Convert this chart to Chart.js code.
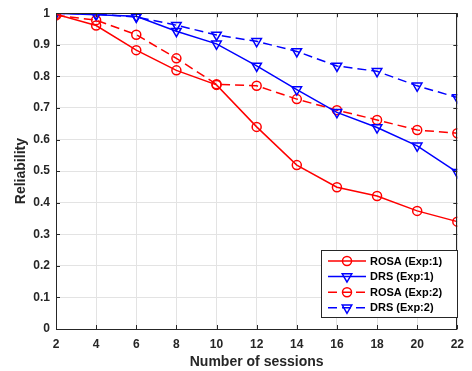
<!DOCTYPE html>
<html>
<head>
<meta charset="utf-8">
<script src="https://cdn.jsdelivr.net/npm/chart.js@4/dist/chart.umd.min.js"></script>
<style>
  html, body { margin: 0; padding: 0; background: #fff; }
  #wrap { width: 472px; height: 371px; }
</style>
</head>
<body>
<div id="wrap"><canvas id="myChart" width="472" height="371"></canvas></div>
<script>
// data
const sessions = [2, 4, 6, 8, 10, 12, 14, 16, 18, 20, 22];
const rosaExp1 = [0.997, 0.961, 0.883, 0.819, 0.773, 0.640, 0.519, 0.449, 0.421, 0.374, 0.340];
const drsExp1  = [1.0, 0.995, 0.99, 0.943, 0.903, 0.833, 0.758, 0.686, 0.638, 0.580, 0.496];
const rosaExp2 = [0.993, 0.978, 0.932, 0.857, 0.775, 0.770, 0.728, 0.693, 0.662, 0.630, 0.620];
const drsExp2  = [1.0, 0.997, 0.988, 0.962, 0.931, 0.911, 0.879, 0.833, 0.816, 0.770, 0.733];
const seriesNames = ['ROSA (Exp:1)', 'DRS (Exp:1)', 'ROSA (Exp:2)', 'DRS (Exp:2)'];
const xTicks = [2, 4, 6, 8, 10, 12, 14, 16, 18, 20, 22];
const yTicks = [0, 0.1, 0.2, 0.3, 0.4, 0.5, 0.6, 0.7, 0.8, 0.9, 1];

const RED = '#ff0000', BLUE = '#0000ff';
const FONT = 'Liberation Sans, Arial, Helvetica, sans-serif';

function makeSet(label, values, color, dashed, marker) {
  return {
    label: label,
    data: sessions.map((s, i) => ({ x: s, y: values[i] })),
    borderColor: color,
    borderWidth: 1.5,
    borderDash: dashed ? [9, 5] : [],
    pointStyle: marker,
    pointRotation: marker === 'triangle' ? 180 : 0,
    pointRadius: marker === 'triangle' ? 5.5 : 4.5,
    pointBorderWidth: 1.5,
    pointBorderColor: color,
    pointBackgroundColor: 'rgba(0,0,0,0)',
    tension: 0,
    fill: false
  };
}

//box, inward ticks and legend drawn by hand (matlab look)
const matlabAxes = {
  id: 'matlabAxes',
  afterDatasetsDraw(chart) {
    const ctx = chart.ctx, a = chart.chartArea;
    const xs = chart.scales.x, ys = chart.scales.y;
    ctx.save();
    ctx.strokeStyle = '#262626';
    ctx.lineWidth = 1;
    ctx.strokeRect(Math.round(a.left) + 0.5, Math.round(a.top) + 0.5,
                   Math.round(a.right - a.left) - 1, Math.round(a.bottom - a.top));
    ctx.beginPath();
    xTicks.forEach(v => {
      const px = Math.round(xs.getPixelForValue(v)) + 0.5;
      ctx.moveTo(px, a.bottom); ctx.lineTo(px, a.bottom - 4);
      ctx.moveTo(px, a.top); ctx.lineTo(px, a.top + 4);
    });
    yTicks.forEach(v => {
      const py = Math.round(ys.getPixelForValue(v)) + 0.5;
      ctx.moveTo(a.left, py); ctx.lineTo(a.left + 4, py);
      ctx.moveTo(a.right, py); ctx.lineTo(a.right - 4, py);
    });
    ctx.stroke();

    // legend
    const bx = 321.5, by = 250.5, bw = 136, bh = 67;
    ctx.fillStyle = '#fff';
    ctx.fillRect(bx, by, bw, bh);
    ctx.strokeStyle = '#262626';
    ctx.strokeRect(bx, by, bw, bh);
    ctx.font = 'bold 11px ' + FONT;
    ctx.textBaseline = 'middle';
    ctx.textAlign = 'left';
    chart.data.datasets.forEach((ds, i) => {
      const yy = 261 + i * 15.6;
      ctx.strokeStyle = ds.borderColor;
      ctx.lineWidth = 1.5;
      ctx.setLineDash(ds.borderDash);
      ctx.beginPath();
      ctx.moveTo(328, yy); ctx.lineTo(366, yy);
      ctx.stroke();
      ctx.setLineDash([]);
      ctx.fillStyle = 'rgba(0,0,0,0)';
      Chart.helpers.drawPoint(ctx, {
        pointStyle: ds.pointStyle, rotation: ds.pointRotation,
        radius: ds.pointRadius, borderWidth: 1.5
      }, 347, yy);
      ctx.fillStyle = '#000';
      ctx.fillText(ds.label, 370, yy + 0.5);
    });
    ctx.restore();
  }
};

const tickFont = { family: FONT, size: 12, weight: 'bold' };

const chartConfig = {
  type: 'line',
  data: {
    datasets: [
      makeSet(seriesNames[0], rosaExp1, RED, false, 'circle'),
      makeSet(seriesNames[1], drsExp1, BLUE, false, 'triangle'),
      makeSet(seriesNames[2], rosaExp2, RED, true, 'circle'),
      makeSet(seriesNames[3], drsExp2, BLUE, true, 'triangle')
    ]
  },
  options: {
    responsive: false,
    animation: false,
    layout: { padding: { top: 12, right: 13, left: 0, bottom: 0 } },
    plugins: { legend: { display: false }, tooltip: { enabled: false } },
    scales: {
      x: {
        type: 'linear', min: 2, max: 22,
        afterBuildTicks: s => { s.ticks = xTicks.map(v => ({ value: v })); },
        afterFit: s => { s.height = 42; },
        grid: { color: '#e3e3e3', drawTicks: false },
        border: { display: false },
        ticks: { padding: 8, color: '#262626', font: tickFont, callback: v => String(v) },
        title: { display: true, text: 'Number of sessions', color: '#262626',
                 padding: { top: 0, bottom: 0 }, font: { family: FONT, size: 14, weight: 'bold' } }
      },
      y: {
        min: 0, max: 1,
        afterBuildTicks: s => { s.ticks = yTicks.map(v => ({ value: v })); },
        afterFit: s => { s.width = 56; },
        grid: { color: '#e3e3e3', drawTicks: false },
        border: { display: false },
        ticks: { padding: 6, color: '#262626', font: tickFont,
                 callback: v => String(Math.round(v * 10) / 10) },
        title: { display: true, text: 'Reliability', color: '#262626',
                 padding: { top: 13, bottom: 0 }, font: { family: FONT, size: 14, weight: 'bold' } }
      }
    }
  },
  plugins: [matlabAxes]
};

const myChart = new Chart(document.getElementById('myChart'), chartConfig);
</script>
</body>
</html>
